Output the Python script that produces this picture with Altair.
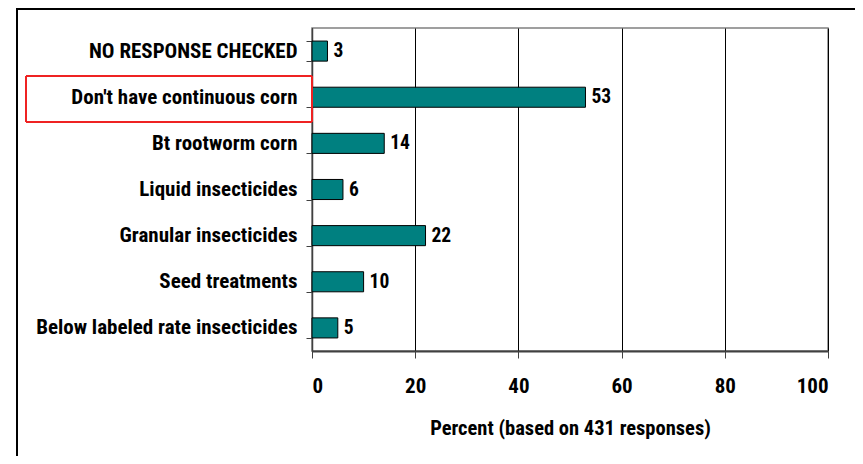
import altair as alt
import pandas as pd

categories = [
    "NO RESPONSE CHECKED",
    "Don't have continuous corn",
    "Bt rootworm corn",
    "Liquid insecticides",
    "Granular insecticides",
    "Seed treatments",
    "Below labeled rate insecticides",
]
percents = [3, 53, 14, 6, 22, 10, 5]
x_ticks = [0, 20, 40, 60, 80, 100]
x_title = "Percent (based on 431 responses)"

df = pd.DataFrame({"category": categories, "percent": percents})

FONT = "Roboto Condensed, Arial Narrow, sans-serif"

y_enc = alt.Y(
    "category:N",
    sort=categories,
    scale=alt.Scale(paddingInner=0.565, paddingOuter=0.283),
    axis=alt.Axis(
        title=None,
        labelFont=FONT,
        labelFontSize=21,
        labelFontWeight="bold",
        labelColor="black",
        labelPadding=9,
        labelLimit=400,
        tickBand="extent",
        tickSize=6,
        tickColor="#404040",
        domainColor="#404040",
        domainWidth=1.5,
        grid=False,
    ),
)

x_enc = alt.X(
    "percent:Q",
    scale=alt.Scale(domain=[0, 100], nice=False),
    axis=alt.Axis(
        values=x_ticks,
        title=x_title,
        titleFont=FONT,
        titleFontSize=20.5,
        titleFontWeight="bold",
        titleColor="black",
        titlePadding=22,
        labelFont=FONT,
        labelFontSize=21,
        labelFontWeight="bold",
        labelColor="black",
        labelPadding=17,
        tickSize=7,
        tickColor="#404040",
        domainColor="#404040",
        domainWidth=2,
        grid=True,
        gridColor="black",
        gridWidth=1,
    ),
)

bars = alt.Chart(df).mark_bar(
    color="#008080", stroke="black", strokeWidth=1
).encode(x=x_enc, y=y_enc)

labels = alt.Chart(df).mark_text(
    align="left", baseline="middle", dx=6, font=FONT, fontSize=19.5,
    fontWeight="bold", color="black"
).encode(x="percent:Q", y=alt.Y("category:N", sort=categories), text="percent:Q")

outer = alt.Chart(df).mark_rect(
    filled=False, stroke="black", strokeWidth=2, clip=False
).encode(
    x=alt.value(-295), x2=alt.value(545), y=alt.value(-19), y2=alt.value(460)
)

redbox = alt.Chart(df).mark_rect(
    filled=False, stroke="#ee2222", strokeWidth=1, clip=False
).encode(
    x=alt.value(-286), x2=alt.value(0), y=alt.value(48), y2=alt.value(94)
)

chart = alt.layer(outer, bars, labels, redbox).properties(
    width=516,
    height=323,
    padding={"left": 304, "top": 20, "right": 27, "bottom": 105},
    autosize=alt.AutoSizeParams(type="none"),
    background="white",
).configure_view(stroke="#808080", strokeWidth=1.5)

chart.save("out.html", embed_options={"renderer": "svg", "actions": False})
